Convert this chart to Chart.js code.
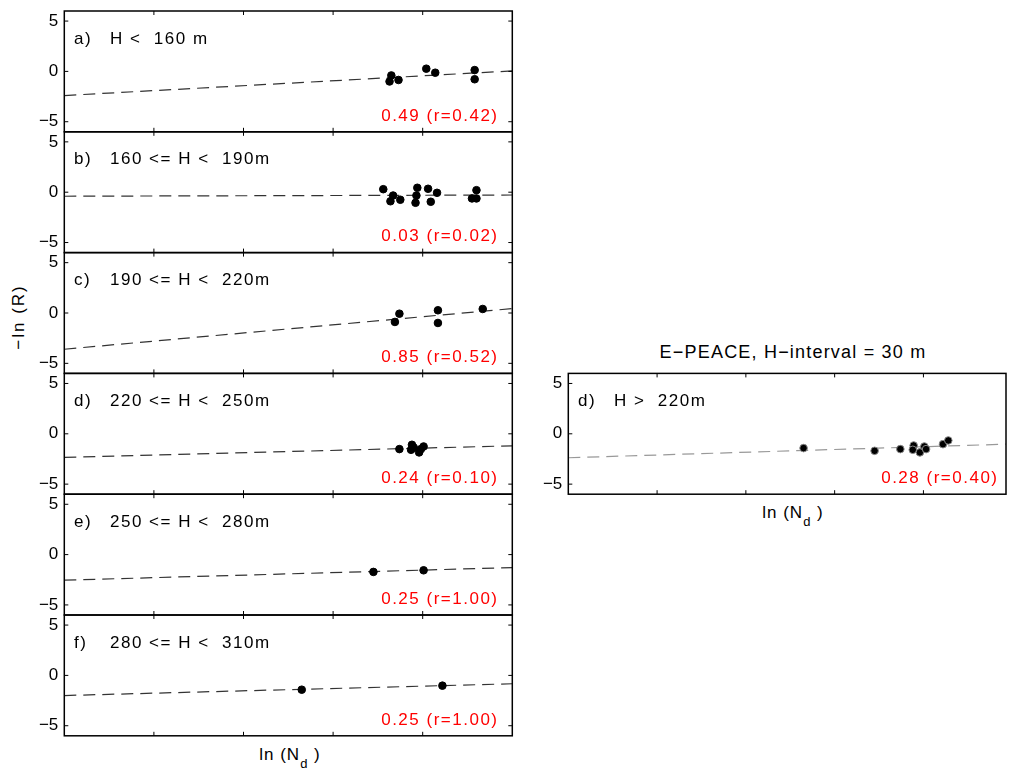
<!DOCTYPE html>
<html>
<head>
<meta charset="utf-8">
<script src="https://cdn.jsdelivr.net/npm/chart.js@4.4.1/dist/chart.umd.min.js"></script>
<style>
  html, body { margin: 0; padding: 0; background: #fff; }
  #fig { position: relative; width: 1011px; height: 769px; overflow: hidden;
         font-family: "Liberation Sans", Arial, sans-serif; color: #000; }
  #fig canvas { position: absolute; }
  .lbl { position: absolute; white-space: nowrap; font-size: 17px; line-height: 17px; letter-spacing: 1px; }
  .sub { font-size: 13px; position: relative; top: 8px; }
  #ylab { left: 18px; top: 317px; letter-spacing: 2px; transform: translate(-50%, -50%) rotate(-90deg); }
  #xlabL { left: 290px; top: 745.6px; transform: translateX(-50%); }
  #xlabR { left: 793px; top: 503.6px; transform: translateX(-50%); }
  #title { left: 793px; top: 342.8px; font-size: 18px; line-height: 18px; letter-spacing: 1.2px; transform: translateX(-50%); }
</style>
</head>
<body>
<div id="fig">
  <div class="lbl" id="ylab">−ln (R)</div>
  <div class="lbl" id="xlabL">ln (N<span class="sub">d</span> )</div>
  <div class="lbl" id="xlabR">ln (N<span class="sub">d</span> )</div>
  <div class="lbl" id="title">E−PEACE, H−interval = 30 m</div>
</div>
<script>
// text in the panels
const panelTags = ['a)', 'b)', 'c)', 'd)', 'e)', 'f)', 'd)'];
const panelRanges = ['H <  160 m', '160 <= H <  190m', '190 <= H <  220m', '220 <= H <  250m',
                     '250 <= H <  280m', '280 <= H <  310m', 'H >  220m'];
const slopeLabels = ['0.49 (r=0.42)', '0.03 (r=0.02)', '0.85 (r=0.52)', '0.24 (r=0.10)',
                     '0.25 (r=1.00)', '0.25 (r=1.00)', '0.28 (r=0.40)'];
const yTicks = [-5, 0, 5];
const xTicks = [3, 4, 5, 6];

// points: x = ln(Nd), y = -ln(R)
const aX = [5.65, 5.63, 5.73, 6.04, 6.14, 6.58, 6.58];
const aY = [-0.4, -1.0, -0.85, 0.27, -0.13, 0.13, -0.78];
const aFitX = [2, 7], aFitY = [-2.4, 0.05];

const bX = [5.56, 5.67, 5.64, 5.75, 5.94, 5.93, 5.92, 6.06, 6.09, 6.16, 6.60, 6.55, 6.60];
const bY = [0.3, -0.33, -0.9, -0.75, 0.44, -0.33, -1.05, 0.34, -0.95, -0.06, 0.2, -0.62, -0.62];
const bFitX = [2, 7], bFitY = [-0.4, -0.28];

const cX = [5.69, 5.74, 6.17, 6.17, 6.67];
const cY = [-0.89, -0.07, 0.27, -0.99, 0.4];
const cFitX = [2, 7], cFitY = [-3.6, 0.44];

const dX = [5.74, 5.88, 5.87, 5.96, 6.01, 5.98, 5.90];
const dY = [-1.52, -1.09, -1.59, -1.85, -1.26, -1.52, -1.36];
const dFitX = [2, 7], dFitY = [-2.34, -1.19];

const eX = [5.45, 6.01];
const eY = [-1.72, -1.56];
const eFitX = [2, 7], eFitY = [-2.54, -1.29];

const fX = [4.65, 6.22];
const fY = [-1.42, -1.02];
const fFitX = [2, 7], fFitY = [-2.0, -0.83];

// E-PEACE panel
const gX = [4.65, 5.45, 5.74, 5.89, 5.88, 5.96, 6.01, 6.03, 6.22, 6.28];
const gY = [-1.42, -1.69, -1.52, -1.16, -1.59, -1.85, -1.26, -1.52, -1.03, -0.66];
const gFitX = [2, 6.93], gFitY = [-2.38, -1.03];

const FONT = '"Liberation Sans", Arial, sans-serif';

// frame with inward ticks + the panel texts
const framePlugin = {
  id: 'frame',
  afterDraw(chart, args, o) {
    const { ctx, chartArea: a } = chart;
    const x = chart.scales.x, y = chart.scales.y;
    ctx.save();
    ctx.strokeStyle = '#000';
    ctx.lineWidth = 1;
    ctx.beginPath();
    xTicks.forEach(v => {
      const px = x.getPixelForValue(v);
      ctx.moveTo(px, a.top); ctx.lineTo(px, a.top + 4);
      ctx.moveTo(px, a.bottom); ctx.lineTo(px, a.bottom - 4);
    });
    yTicks.forEach(v => {
      const py = y.getPixelForValue(v);
      ctx.moveTo(a.left, py); ctx.lineTo(a.left + 4, py);
      if (o.rightTicks) { ctx.moveTo(a.right, py); ctx.lineTo(a.right - 4, py); }
    });
    ctx.stroke();
    ctx.lineWidth = 1.5;
    ctx.strokeRect(a.left, a.top, a.right - a.left, a.bottom - a.top);

    ctx.font = '17px ' + FONT;
    ctx.letterSpacing = '1.5px';
    ctx.textBaseline = 'alphabetic';
    ctx.fillStyle = '#000';
    ctx.textAlign = 'left';
    ctx.fillText(o.tag, a.left + 9.7, a.top + 32.5);
    ctx.fillText(o.range, a.left + 45.7, a.top + 32.5);
    ctx.fillStyle = '#ff0000';
    ctx.textAlign = 'right';
    ctx.fillText(o.slope, a.right - o.slopeInset + 1.5, a.top + 109.5);
    ctx.restore();
  }
};

const fig = document.getElementById('fig');
const panelH = 120.8;

function makePanel(i, xs, ys, fx, fy, g) {
  const canvas = document.createElement('canvas');
  const ctop = Math.round(g.top) - 22;
  const ch = Math.round(panelH) + 45;
  canvas.width = g.cw; canvas.height = ch;
  canvas.style.left = g.cl + 'px';
  canvas.style.top = ctop + 'px';
  fig.appendChild(canvas);
  const padT = g.top - ctop;
  const padB = ch - padT - panelH;
  const yW = g.plotLeft - g.cl;

  new Chart(canvas, {
    type: 'scatter',
    data: {
      datasets: [
        {
          data: xs.map((v, k) => ({ x: v, y: ys[k] })),
          pointRadius: 3.8,
          pointBackgroundColor: '#000',
          pointBorderColor: g.edge,
          pointBorderWidth: 1
        },
        {
          data: fx.map((v, k) => ({ x: v, y: fy[k] })),
          showLine: true,
          borderColor: g.lineCol,
          borderWidth: 1.2,
          borderDash: [12, 7],
          pointRadius: 0,
          fill: false
        }
      ]
    },
    options: {
      responsive: false,
      animation: false,
      events: [],
      layout: { padding: { left: 0, right: g.cl + g.cw - g.plotRight, top: padT, bottom: padB } },
      plugins: {
        legend: { display: false },
        tooltip: { enabled: false },
        frame: { tag: panelTags[i], range: panelRanges[i], slope: slopeLabels[i],
                 slopeInset: g.slopeInset, rightTicks: g.rightTicks }
      },
      scales: {
        x: { type: 'linear', display: false, min: 2, max: g.xMax },
        y: {
          type: 'linear', min: -6, max: 6,
          grid: { display: false, drawTicks: false },
          border: { display: false },
          ticks: {
            padding: 6, color: '#000',
            font: { family: FONT, size: 17 },
            callback: v => String(v).replace('-', '\u2212')
          },
          afterBuildTicks: s => { s.ticks = yTicks.map(v => ({ value: v })); },
          afterFit: s => { s.width = yW; }
        }
      }
    },
    plugins: [framePlugin]
  });
}

const leftGeo = k => ({ cl: 0, cw: 530, plotLeft: 64.3, plotRight: 512.3, top: 11 + k * panelH,
                        xMax: 7, edge: '#000', lineCol: '#333', slopeInset: 15.3, rightTicks: true });

makePanel(0, aX, aY, aFitX, aFitY, leftGeo(0));
makePanel(1, bX, bY, bFitX, bFitY, leftGeo(1));
makePanel(2, cX, cY, cFitX, cFitY, leftGeo(2));
makePanel(3, dX, dY, dFitX, dFitY, leftGeo(3));
makePanel(4, eX, eY, eFitX, eFitY, leftGeo(4));
makePanel(5, fX, fY, fFitX, fFitY, leftGeo(5));
makePanel(6, gX, gY, gFitX, gFitY, {
  cl: 520, cw: 491, plotLeft: 568.3, plotRight: 1010, top: 11 + 3 * panelH,
  xMax: 6.93, edge: '#888', lineCol: '#999', slopeInset: 9, rightTicks: false
});
</script>
</body>
</html>
